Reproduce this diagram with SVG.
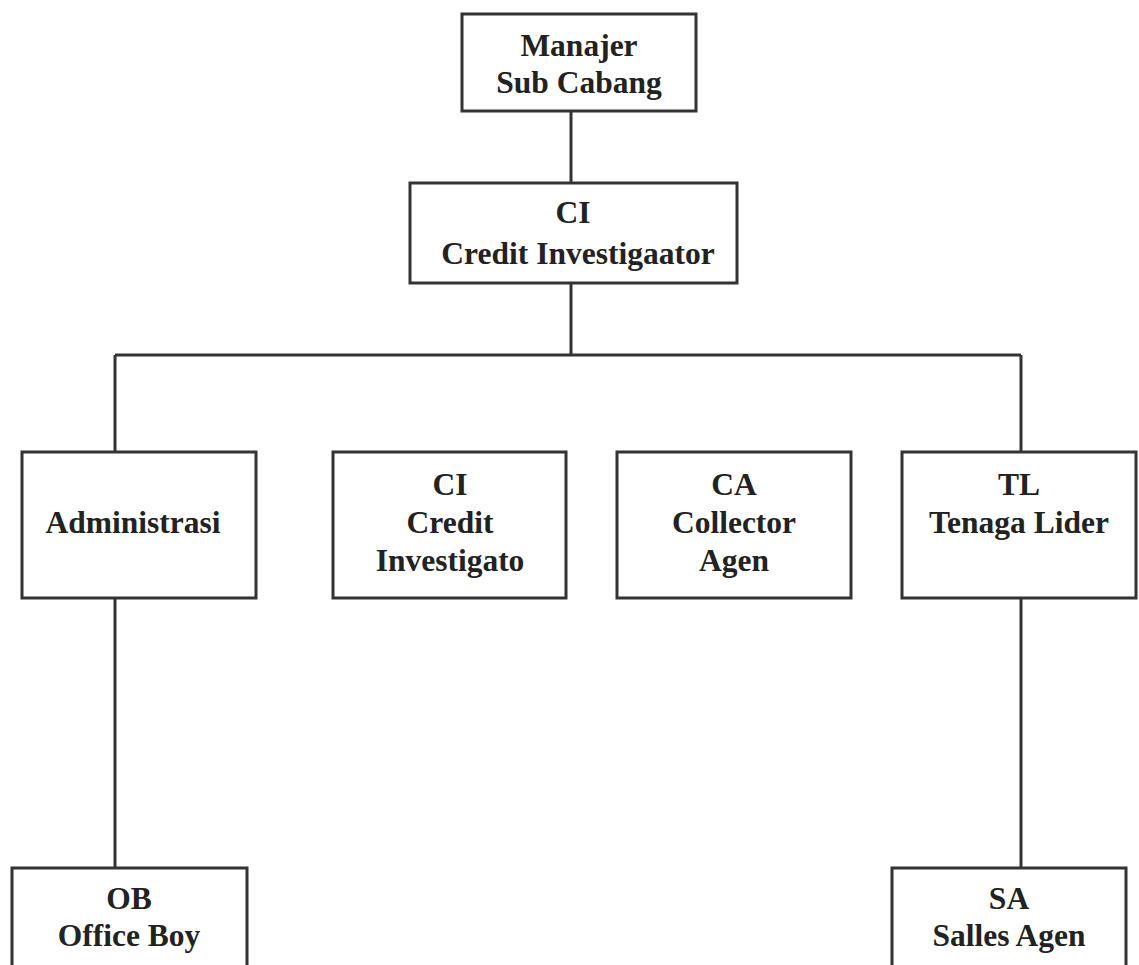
<svg xmlns="http://www.w3.org/2000/svg" width="1139" height="965" viewBox="0 0 1139 965">
<style>
.box{fill:#fff;stroke:#333;stroke-width:3}
.ln{fill:none;stroke:#333;stroke-width:3}
text{font-family:"Liberation Serif","Times New Roman",serif;font-weight:bold;font-size:31.5px;fill:#222;text-anchor:middle}
</style>
<rect width="1139" height="965" fill="#fff"/>
<g id="connectors">
<path class="ln" d="M571,111 V183"/>
<path class="ln" d="M571,283 V355 M115,355 H1021 M115,355 V452 M1021,355 V452"/>
<path class="ln" d="M115,598 V868"/>
<path class="ln" d="M1021,598 V868"/>
</g>
<g id="manajer">
<rect class="box" x="462" y="14" width="234" height="97"/>
<text x="579" y="56">Manajer</text>
<text x="579" y="93">Sub Cabang</text>
</g>
<g id="ci-top">
<rect class="box" x="410" y="183" width="327" height="100"/>
<text x="573" y="223">CI</text>
<text x="578" y="264">Credit Investigaator</text>
</g>
<g id="administrasi">
<rect class="box" x="22" y="452" width="234" height="146"/>
<text x="133" y="533">Administrasi</text>
</g>
<g id="ci">
<rect class="box" x="333" y="452" width="233" height="146"/>
<text x="450" y="495">CI</text>
<text x="450" y="533">Credit</text>
<text x="450" y="571">Investigato</text>
</g>
<g id="ca">
<rect class="box" x="617" y="452" width="234" height="146"/>
<text x="734" y="495">CA</text>
<text x="734" y="533">Collector</text>
<text x="734" y="571">Agen</text>
</g>
<g id="tl">
<rect class="box" x="902" y="452" width="234" height="146"/>
<text x="1019" y="495">TL</text>
<text x="1019" y="533">Tenaga Lider</text>
</g>
<g id="ob">
<rect class="box" x="12" y="868" width="235" height="110"/>
<text x="129" y="909">OB</text>
<text x="129" y="946">Office Boy</text>
</g>
<g id="sa">
<rect class="box" x="892" y="868" width="234" height="110"/>
<text x="1009" y="909">SA</text>
<text x="1009" y="946">Salles Agen</text>
</g>
</svg>
